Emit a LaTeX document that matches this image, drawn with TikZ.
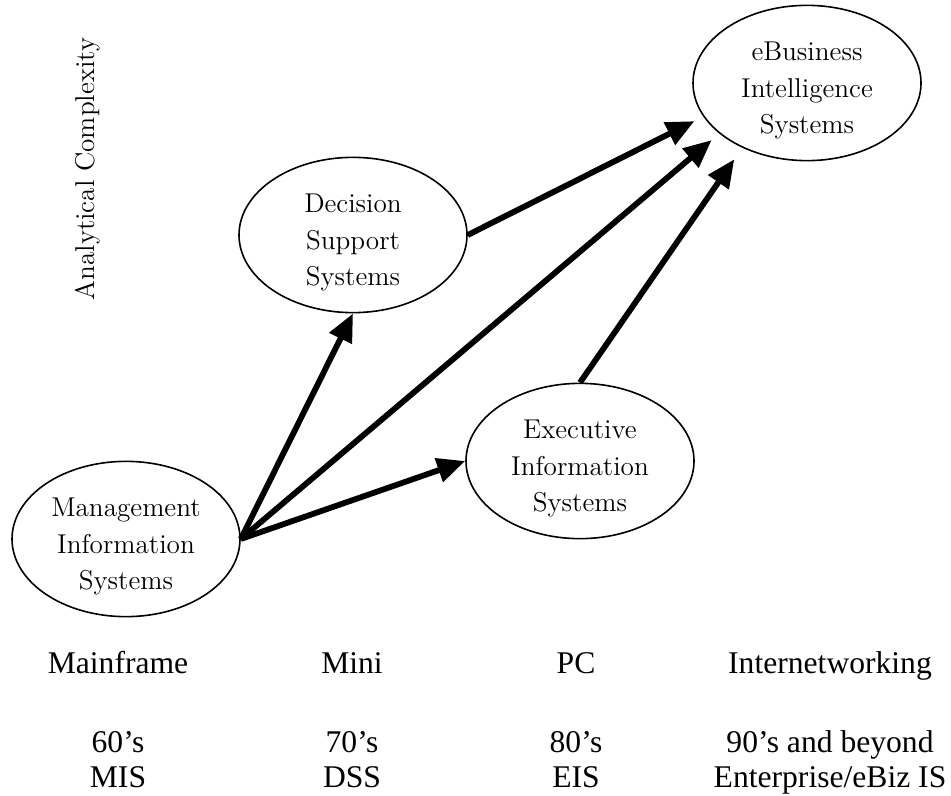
\documentclass[tikz,border=0pt]{standalone}
\usepackage{fontspec}
\newfontfamily\timesf{Liberation Serif}
\usetikzlibrary{shapes.geometric,arrows.meta}
\newcommand\sysLines[1]{\raisebox{-3.5pt}[\height][\depth]{\begin{tabular}{@{}c@{}}#1\end{tabular}}}
\tikzset{
  sysnode/.style={draw, ellipse, line width=0.8pt, minimum width=114pt, minimum height=76pt,
    inner sep=0pt, font=\fontsize{13.6}{18.3}\selectfont},
  arr/.style={line width=2.9pt, -{Triangle[length=14pt,width=12pt]}},
  eralabel/.style={anchor=base, inner sep=0pt, font=\timesf\fontsize{15.8}{17.5}\selectfont},
  axislabel/.style={rotate=90, inner sep=0pt, font=\fontsize{13.6}{17.5}\selectfont}
}
\begin{document}
\begin{tikzpicture}[x=0.5pt, y=-0.5pt]
\useasboundingbox (0,0) rectangle (951,796);
\node[sysnode] (mis) at (126,539) {\sysLines{Management\\Information\\Systems}};
\node[sysnode] (dss) at (353,235) {\sysLines{Decision\\Support\\Systems}};
\node[sysnode] (eis) at (580,461) {\sysLines{Executive\\Information\\Systems}};
\node[sysnode] (ebis) at (807,83) {\sysLines{eBusiness\\Intelligence\\Systems}};
\node[axislabel] (axis) at (88,169) {Analytical Complexity};

\draw[arr] (mis.east) -- (dss.south);
\draw[arr] (mis.east) -- (eis.west);
\draw[arr, shorten >=5pt] (mis.east) -- (ebis.210);
\draw[arr, shorten >=5pt] (dss.east) -- (ebis.198);
\draw[arr, shorten >=7pt] (eis.north) -- (ebis.225);

\node[eralabel] (p1) at (118,673) {Mainframe};
\node[eralabel] (p2) at (352,673) {Mini};
\node[eralabel] (p3) at (576,673) {PC};
\node[eralabel] (p4) at (830,673) {Internetworking};
\node[eralabel] (d1) at (118,752) {60’s};
\node[eralabel] (d2) at (352,752) {70’s};
\node[eralabel] (d3) at (576,752) {80’s};
\node[eralabel] (d4) at (830,752) {90’s and beyond};
\node[eralabel] (s1) at (118,787) {MIS};
\node[eralabel] (s2) at (352,787) {DSS};
\node[eralabel] (s3) at (576,787) {EIS};
\node[eralabel] (s4) at (830,787) {Enterprise/eBiz IS};
\end{tikzpicture}
\end{document}
